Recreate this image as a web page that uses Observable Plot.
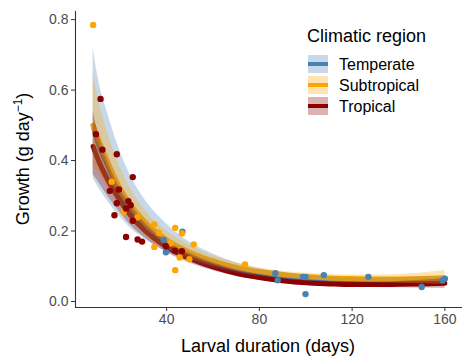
<!DOCTYPE html>
<html><head><meta charset="utf-8">
<script src="https://cdn.jsdelivr.net/npm/d3@7"></script>
<script src="https://cdn.jsdelivr.net/npm/@observablehq/plot@0.6"></script>
<style>
body{margin:0;background:#fff}
svg{font-family:"Liberation Sans",Arial,sans-serif}
</style>
</head><body><div id="chart"></div>
<script>
const regions = ["Temperate", "Subtropical", "Tropical"];
const regionColors = ["#4682B4", "#FFA500", "#8B0000"];
const xTicks = [40, 80, 120, 160];
const yTicks = [0, 0.2, 0.4, 0.6, 0.8];
const xDomain = [0.7, 167.6];
const yDomain = [-0.017, 0.823];

// observed points
const temperateDays   = [46.8, 38.7, 39.7, 86.9, 87.9, 98.8, 99.9, 107.8, 99.9, 127.0, 150.0, 159.0, 160.0];
const temperateGrowth = [0.198, 0.175, 0.140, 0.080, 0.060, 0.070, 0.070, 0.075, 0.021, 0.070, 0.041, 0.060, 0.065];
const subtropicalDays   = [8.3, 16.3, 21.5, 27.5, 34.7, 36.7, 34.7, 41.7, 43.7, 46.6, 51.7, 45.6, 49.8, 43.7, 73.8];
const subtropicalGrowth = [0.785, 0.340, 0.255, 0.239, 0.219, 0.195, 0.155, 0.165, 0.209, 0.193, 0.162, 0.125, 0.120, 0.089, 0.105];
const tropicalDays   = [11.5, 9.5, 12.3, 18.5, 15.5, 19.4, 25.4, 18.5, 23.5, 24.5, 22.5, 17.5, 25.4, 22.5, 27.5, 29.4, 39.7, 43.6, 46.6];
const tropicalGrowth = [0.575, 0.475, 0.431, 0.418, 0.314, 0.318, 0.353, 0.279, 0.285, 0.273, 0.264, 0.245, 0.229, 0.183, 0.176, 0.170, 0.157, 0.144, 0.143];

// fitted curves
const fitDays = [8.3, 10, 15, 20, 25, 30, 40, 50, 60, 70, 80, 90, 100, 110, 120, 130, 140, 150, 160];
const temperateFit  = [0.50, 0.46, 0.38, 0.31, 0.26, 0.225, 0.17, 0.135, 0.11, 0.092, 0.080, 0.071, 0.066, 0.062, 0.060, 0.059, 0.059, 0.060, 0.062];
const temperateLow  = [0.35, 0.33, 0.28, 0.24, 0.205, 0.18, 0.14, 0.113, 0.094, 0.080, 0.070, 0.063, 0.058, 0.055, 0.053, 0.052, 0.051, 0.051, 0.052];
const temperateHigh = [0.72, 0.65, 0.525, 0.425, 0.35, 0.295, 0.22, 0.168, 0.135, 0.110, 0.093, 0.082, 0.075, 0.070, 0.068, 0.067, 0.068, 0.070, 0.073];
const subtropicalFit  = [0.50, 0.47, 0.39, 0.32, 0.27, 0.23, 0.175, 0.14, 0.115, 0.097, 0.085, 0.077, 0.071, 0.067, 0.065, 0.064, 0.064, 0.065, 0.067];
const subtropicalLow  = [0.38, 0.37, 0.32, 0.27, 0.23, 0.195, 0.15, 0.12, 0.10, 0.085, 0.075, 0.067, 0.062, 0.058, 0.056, 0.054, 0.052, 0.050, 0.048];
const subtropicalHigh = [0.647, 0.59, 0.47, 0.38, 0.315, 0.265, 0.20, 0.16, 0.13, 0.11, 0.095, 0.086, 0.080, 0.077, 0.075, 0.075, 0.077, 0.081, 0.088];
const tropicalFit  = [0.44, 0.41, 0.34, 0.285, 0.24, 0.205, 0.155, 0.122, 0.098, 0.080, 0.068, 0.059, 0.053, 0.050, 0.048, 0.048, 0.049, 0.050, 0.052];
const tropicalLow  = [0.36, 0.345, 0.295, 0.252, 0.213, 0.184, 0.14, 0.109, 0.087, 0.071, 0.060, 0.052, 0.046, 0.043, 0.041, 0.040, 0.039, 0.038, 0.037];
const tropicalHigh = [0.54, 0.49, 0.39, 0.32, 0.27, 0.228, 0.172, 0.136, 0.11, 0.090, 0.077, 0.067, 0.061, 0.057, 0.055, 0.055, 0.057, 0.060, 0.065];

const pointSets = [[temperateDays, temperateGrowth], [subtropicalDays, subtropicalGrowth], [tropicalDays, tropicalGrowth]];
const fitSets = [[temperateFit, temperateLow, temperateHigh], [subtropicalFit, subtropicalLow, subtropicalHigh], [tropicalFit, tropicalLow, tropicalHigh]];

const points = pointSets.flatMap(([xs, ys], i) => xs.map((x, j) => ({region: regions[i], days: x, growth: ys[j]})));
const fits = regions.map((r, i) => fitDays.map((x, j) => ({region: r, days: x, fit: fitSets[i][0][j], low: fitSets[i][1][j], high: fitSets[i][2][j]})));

const colorOf = r => regionColors[regions.indexOf(r)];

const marks = [];
fits.forEach((f, i) => marks.push(Plot.line(f, {x: "days", y: "fit", stroke: regionColors[i], strokeWidth: 5, curve: "monotone-x"})));
fits.forEach((f, i) => marks.push(Plot.areaY(f, {x: "days", y1: "low", y2: "high", fill: regionColors[i], fillOpacity: 0.3, curve: "monotone-x"})));
marks.push(Plot.dot(points, {x: "days", y: "growth", fill: d => colorOf(d.region), r: 3.2, stroke: null}));
marks.push(Plot.axisX({ticks: xTicks, tickSize: 4, tickPadding: 3, label: null, stroke: "#333", fill: "#4D4D4D", fontSize: 14}));
marks.push(Plot.axisY({ticks: yTicks, tickFormat: d3.format(".1f"), tickSize: 4, tickPadding: 3, label: null, stroke: "#333", fill: "#4D4D4D", fontSize: 14}));
marks.push(Plot.ruleX([xDomain[0]], {stroke: "#333", strokeWidth: 1.1}));
marks.push(Plot.ruleY([yDomain[0]], {stroke: "#333", strokeWidth: 1.1}));

const chart = Plot.plot({
  width: 462, height: 359,
  marginLeft: 75, marginRight: 0, marginTop: 11, marginBottom: 52,
  x: {domain: xDomain},
  y: {domain: yDomain},
  style: {fontFamily: '"Liberation Sans", Arial, sans-serif', fontSize: "14px", background: "#fff"},
  marks
});
document.getElementById("chart").appendChild(chart);

const svg = d3.select(chart);
svg.append("text").attr("x", 268).attr("y", 352).attr("text-anchor", "middle")
  .attr("font-size", 18).attr("fill", "#000").text("Larval duration (days)");
const yt = svg.append("text").attr("transform", "translate(29,159) rotate(-90)").attr("text-anchor", "middle")
  .attr("font-size", 18).attr("fill", "#000");
yt.append("tspan").text("Growth (g day");
yt.append("tspan").attr("dy", -7).attr("font-size", 12).text("\u22121");
yt.append("tspan").attr("dy", 7).text(")");

const lg = svg.append("g").attr("text-anchor", "start");
lg.append("text").attr("x", 307).attr("y", 42).attr("font-size", 18).attr("fill", "#000").text("Climatic region");
regions.forEach((r, i) => {
  const y0 = 55 + i * 21;
  lg.append("rect").attr("x", 308).attr("y", y0).attr("width", 20).attr("height", 18)
    .attr("fill", regionColors[i]).attr("fill-opacity", 0.3);
  lg.append("line").attr("x1", 308).attr("x2", 328).attr("y1", y0 + 9).attr("y2", y0 + 9)
    .attr("stroke", regionColors[i]).attr("stroke-width", 4);
  lg.append("text").attr("x", 339).attr("y", y0 + 15).attr("font-size", 16).attr("fill", "#000").text(r);
});
</script>
</body></html>
